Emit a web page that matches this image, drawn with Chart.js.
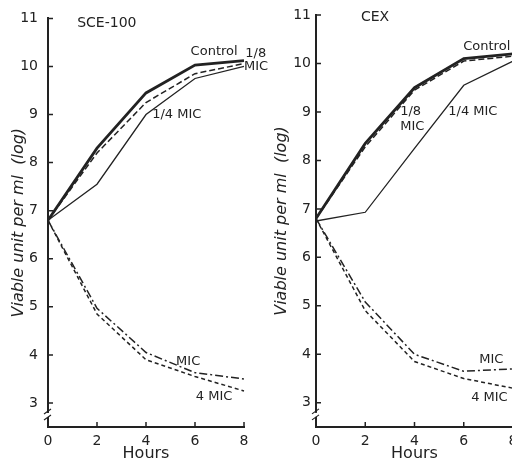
<!DOCTYPE html>
<html>
<head>
<meta charset="utf-8">
<script src="https://cdn.jsdelivr.net/npm/chart.js@4/dist/chart.umd.min.js"></script>
<style>
  body { margin: 0; width: 512px; height: 463px; overflow: hidden; background: #fff; position: relative; }
  .box { position: absolute; top: 0; height: 463px; }
</style>
</head>
<body>
<div class="box" style="left:0;width:290px"><canvas id="sce-chart"></canvas></div>
<div class="box" style="left:256px;width:270px"><canvas id="cex-chart"></canvas></div>
<script>
// Horas e ticks
const hours = [0, 2, 4, 6, 8];
const yTicks = [3, 4, 5, 6, 7, 8, 9, 10, 11];

// SCE-100 (log viable unit per ml)
const sceControl = [6.8, 8.3, 9.45, 10.03, 10.12];
const sceEighth  = [6.8, 8.2, 9.25, 9.85, 10.06];
const sceQuarter = [6.8, 7.55, 9.0, 9.75, 10.0];
const sceMic     = [6.8, 4.97, 4.05, 3.63, 3.5];
const sce4Mic    = [6.8, 4.85, 3.9, 3.55, 3.25];

// CEX
const cexControl = [6.8, 8.35, 9.5, 10.1, 10.2];
const cexEighth  = [6.8, 8.28, 9.45, 10.05, 10.15];
const cexQuarter = [6.75, 6.93, 8.25, 9.55, 10.05];
const cexMic     = [6.8, 5.08, 4.0, 3.65, 3.7];
const cex4Mic    = [6.8, 4.9, 3.85, 3.5, 3.3];

const ink = '#222';
const FONT = 'DejaVu Sans';

function toPoints(values) {
    return values.map((v, i) => ({ x: hours[i], y: v }));
}

function series(values, width, dash) {
    return {
        data: toPoints(values),
        borderColor: ink,
        borderWidth: width,
        borderDash: dash,
        pointRadius: 0,
        fill: false,
        tension: 0,
        clip: false
    };
}

// Desenha ticks internos, quebra do eixo e textos
const decor = {
    id: 'decor',
    afterDraw(chart) {
        const ctx = chart.ctx;
        const xs = chart.scales.x, ys = chart.scales.y;
        const area = chart.chartArea;
        const opts = chart.options.plugins.decor;
        ctx.save();
        ctx.strokeStyle = ink;
        ctx.lineWidth = 1.5;
        ctx.beginPath();
        yTicks.forEach(t => {
            const py = ys.getPixelForValue(t);
            ctx.moveTo(area.left, py);
            ctx.lineTo(area.left + 5, py);
        });
        hours.slice(1).forEach(h => {
            const px = xs.getPixelForValue(h);
            ctx.moveTo(px, area.bottom);
            ctx.lineTo(px, area.bottom - 5);
        });
        ctx.stroke();

        // quebra do eixo
        const by = (ys.getPixelForValue(3) + area.bottom) / 2;
        ctx.fillStyle = '#fff';
        ctx.fillRect(area.left - 3, by - 2, 6, 4);
        ctx.beginPath();
        ctx.lineWidth = 1.2;
        ctx.moveTo(area.left - 4, by - 1);
        ctx.lineTo(area.left + 3, by - 6);
        ctx.moveTo(area.left - 4, by + 5);
        ctx.lineTo(area.left + 3, by);
        ctx.stroke();

        ctx.fillStyle = ink;
        ctx.textBaseline = 'middle';
        opts.labels.forEach(l => {
            ctx.font = (l.size || 13) + 'px ' + FONT;
            ctx.textAlign = l.align || 'left';
            ctx.fillText(l.text, xs.getPixelForValue(l.x), ys.getPixelForValue(l.y));
        });
        ctx.restore();
    }
};

function generateChart(id, sets, yWidth, labelPad, titlePad, padRight, labels) {
    const config = {
        type: 'line',
        data: {
            datasets: [
                series(sets[0], 2.8, []),
                series(sets[1], 1.5, [6, 3]),
                series(sets[2], 1.3, []),
                series(sets[3], 1.5, [8, 3, 2, 3]),
                series(sets[4], 1.5, [4, 3])
            ]
        },
        options: {
            responsive: true,
            maintainAspectRatio: false,
            animation: false,
            layout: { padding: { left: 0, right: padRight, top: 15, bottom: 0 } },
            plugins: {
                legend: { display: false },
                tooltip: { enabled: false },
                decor: { labels: labels }
            },
            scales: {
                x: {
                    type: 'linear',
                    min: 0,
                    max: 8,
                    afterBuildTicks: s => { s.ticks = hours.map(v => ({ value: v })); },
                    afterFit: s => { s.height = 36; },
                    grid: { display: false, drawTicks: false },
                    border: { display: true, color: ink, width: 2 },
                    ticks: { color: ink, padding: 6, font: { family: FONT, size: 14 } },
                    title: {
                        display: true,
                        text: 'Hours',
                        color: ink,
                        padding: { top: 0, bottom: 0 },
                        font: { family: FONT, size: 16 }
                    }
                },
                y: {
                    type: 'linear',
                    min: 2.5,
                    max: 11,
                    afterBuildTicks: s => { s.ticks = yTicks.map(v => ({ value: v })); },
                    afterFit: s => { s.width = yWidth; },
                    grid: { display: false, drawTicks: false },
                    border: { display: true, color: ink, width: 2 },
                    ticks: { color: ink, padding: labelPad, font: { family: FONT, size: 14 } },
                    title: {
                        display: true,
                        text: 'Viable unit per ml  (log)',
                        color: ink,
                        padding: { top: titlePad, bottom: 0 },
                        font: { family: FONT, size: 16, style: 'italic' }
                    }
                }
            }
        },
        plugins: [decor]
    };
    new Chart(document.getElementById(id), config);
}

generateChart('sce-chart', [sceControl, sceEighth, sceQuarter, sceMic, sce4Mic], 48, 10, 9, 46, [
    { text: 'SCE-100', x: 2.4, y: 10.9, align: 'center', size: 14 },
    { text: 'Control', x: 6.78, y: 10.3, align: 'center' },
    { text: '1/8', x: 8.05, y: 10.27 },
    { text: 'MIC', x: 8.0, y: 10.0 },
    { text: '1/4 MIC', x: 4.25, y: 9.0 },
    { text: 'MIC', x: 5.72, y: 3.87, align: 'center' },
    { text: '4 MIC', x: 6.78, y: 3.14, align: 'center' }
]);

generateChart('cex-chart', [cexControl, cexEighth, cexQuarter, cexMic, cex4Mic], 60, 5, 16, 13, [
    { text: 'CEX', x: 2.4, y: 10.96, align: 'center', size: 14 },
    { text: 'Control', x: 5.98, y: 10.35 },
    { text: '1/8', x: 3.42, y: 9.0 },
    { text: 'MIC', x: 3.42, y: 8.7 },
    { text: '1/4 MIC', x: 5.37, y: 9.0 },
    { text: 'MIC', x: 6.63, y: 3.9 },
    { text: '4 MIC', x: 6.3, y: 3.1 }
]);
</script>
</body>
</html>
